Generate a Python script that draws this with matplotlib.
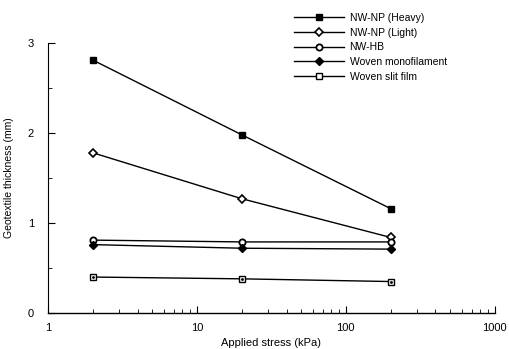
import matplotlib
matplotlib.use("Agg")
import matplotlib.pyplot as plt
from matplotlib.ticker import LogLocator, MultipleLocator, FixedFormatter, FixedLocator

plt.rcParams['font.family'] = ['Liberation Sans', 'DejaVu Sans']

# data
stress = [2, 20, 200]
nw_np_heavy = [2.81, 1.98, 1.16]
nw_np_light = [1.78, 1.27, 0.84]
nw_hb = [0.81, 0.79, 0.79]
woven_mono = [0.76, 0.72, 0.71]
woven_slit = [0.40, 0.38, 0.35]

labels = ['NW-NP (Heavy)', 'NW-NP (Light)', 'NW-HB',
          'Woven monofilament', 'Woven slit film']

fig = plt.figure(figsize=(5.1, 3.49), dpi=100)
ax = fig.add_axes([0.094, 0.103, 0.876, 0.774])

lw = 1.0
h1, = ax.plot(stress, nw_np_heavy, color='black', lw=lw, marker='s', ms=4.5,
              mfc='black', mec='black')
h2, = ax.plot(stress, nw_np_light, color='black', lw=lw, marker='D', ms=4,
              mfc='white', mec='black', mew=1.2)
h3, = ax.plot(stress, nw_hb, color='black', lw=lw, marker='o', ms=4.5,
              mfc='white', mec='black', mew=1.3)
h4, = ax.plot(stress, woven_mono, color='black', lw=lw, marker='D', ms=4.5,
              mfc='black', mec='black')
h5, = ax.plot(stress, woven_slit, color='black', lw=lw, marker='s', ms=5,
              mfc='white', mec='black', mew=1.0)
ax.plot(stress, woven_slit, ls='none', marker='.', ms=2, color='black')

ax.set_xscale('log')
ax.set_xlim(1, 1000)
ax.set_ylim(0, 3)

ax.xaxis.set_major_locator(FixedLocator([1, 10, 100, 1000]))
ax.xaxis.set_major_formatter(FixedFormatter(['1', '10', '100', '1000']))
ax.xaxis.set_minor_locator(LogLocator(base=10, subs=range(2, 10)))
ax.yaxis.set_major_locator(MultipleLocator(1))
ax.yaxis.set_minor_locator(MultipleLocator(0.5))

for s in ['top', 'right']:
    ax.spines[s].set_visible(False)
ax.spines['left'].set_linewidth(0.8)
ax.spines['bottom'].set_linewidth(1.0)

ax.tick_params(which='both', direction='in', labelsize=8, color='black')
ax.tick_params(which='major', length=5, width=0.8)
ax.tick_params(which='minor', length=3, width=0.6)
ax.tick_params(axis='x', which='major', pad=7)
ax.tick_params(axis='y', which='major', pad=10)

ax.set_xlabel('Applied stress (kPa)', fontsize=8, labelpad=4)
ax.set_ylabel('Geotextile thickness (mm)', fontsize=7.5, labelpad=10)

leg = fig.legend([h1, h2, h3, h4, h5], labels, loc='upper left',
                 bbox_to_anchor=(0.569, 0.975), frameon=False, fontsize=7.5,
                 handlelength=4.8, handletextpad=0.5, labelspacing=0.45,
                 borderaxespad=0)

fig.savefig('out.png', dpi=100)
